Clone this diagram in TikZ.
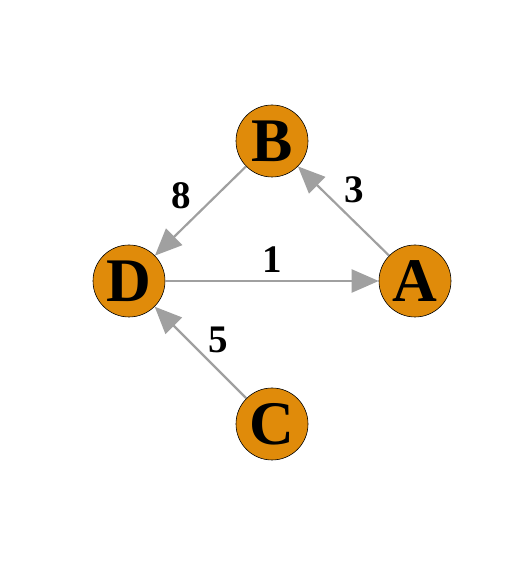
\documentclass[tikz,border=0pt]{standalone}
\usepackage{fontspec}
\setmainfont{Liberation Serif}
\usetikzlibrary{arrows.meta}
\definecolor{vorange}{RGB}{224,139,10}
\definecolor{egray}{RGB}{160,160,160}

\begin{document}
\begin{tikzpicture}[x=1pt,y=1pt,
  vert/.style={circle, draw=black, line width=0.6pt, fill=vorange, minimum size=72pt, inner sep=0pt, font=\fontsize{62}{62}\selectfont\bfseries},
  edge/.style={draw=egray, line width=2.2pt, -{Triangle[length=27pt,width=23pt]}},
  wlabel/.style={font=\fontsize{39}{39}\selectfont\bfseries}]
\useasboundingbox (0,0) rectangle (506,579);
% vertices
\node[vert] (B) at (272,438) {B};
\node[vert] (D) at (129,298) {D};
\node[vert] (A) at (415,298) {A};
\node[vert] (C) at (272,155) {C};
% edges
\draw[edge] (B) -- (D);
\draw[edge] (D) -- (A);
\draw[edge] (A) -- (B);
\draw[edge] (C) -- (D);
% weights
\node[wlabel] (w8) at (181,383) {8};
\node[wlabel] (w1) at (272,319) {1};
\node[wlabel] (w3) at (354,389) {3};
\node[wlabel] (w5) at (218,239) {5};
\end{tikzpicture}
\end{document}
